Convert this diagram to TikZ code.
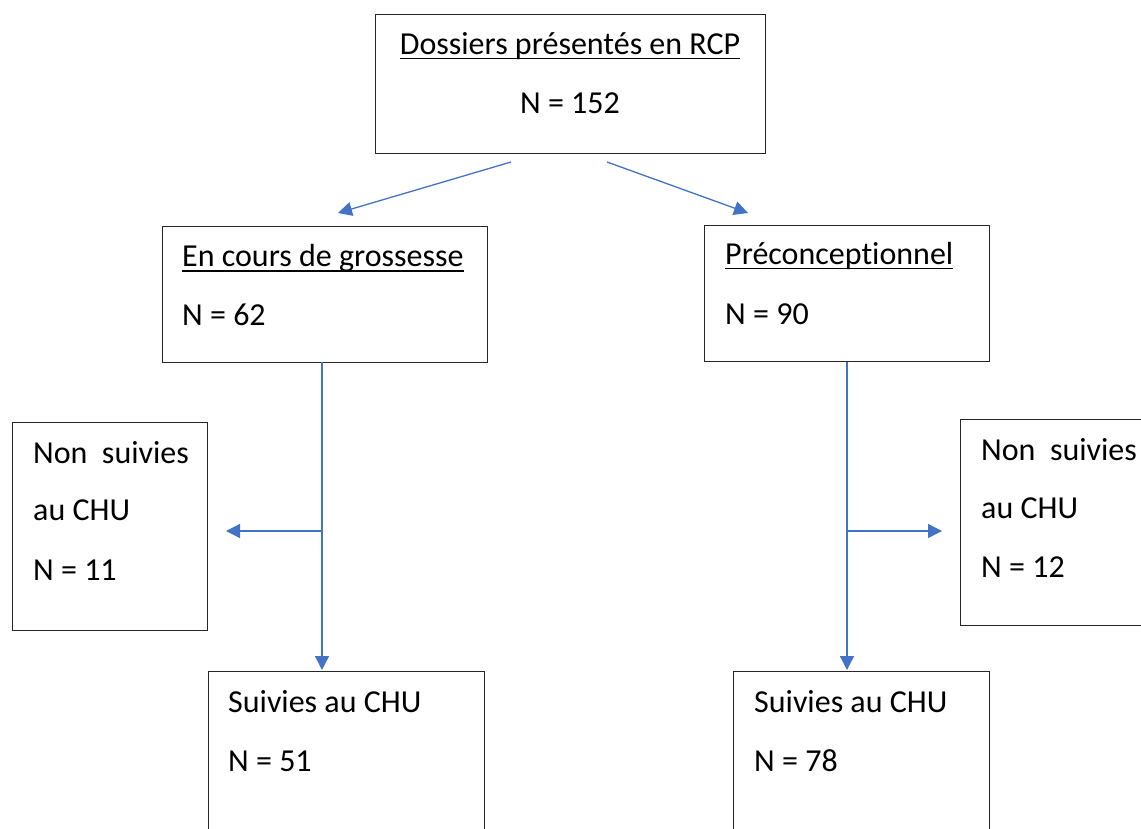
\documentclass[tikz,border=0pt]{standalone}
\usepackage{fontspec}
\setmainfont{Carlito}[Ligatures={NoCommon,NoContextual}]
\usetikzlibrary{arrows.meta}
\definecolor{arrowblue}{HTML}{4472C4}
\newcommand{\ulx}[1]{\setbox0\hbox{#1}\rlap{\rule[-4.5pt]{\wd0}{1.8pt}}\box0}
\tikzset{
  box/.style={draw=black!85, line width=1.3pt, rectangle, inner sep=0pt, anchor=north west},
  txt/.style={inner sep=0pt, anchor=base west, font=\fontsize{32}{38}\selectfont},
  flow/.style={draw=arrowblue, line width=1.3pt, -{Triangle[length=14pt,width=14pt]}}
}
\begin{document}
\begin{tikzpicture}[x=1pt,y=-1pt]
\clip (0,0) rectangle (1141,829);
\fill[white] (0,0) rectangle (1141,829);
% boxes
\node[box, minimum width=390pt, minimum height=139pt] (top) at (375,14) {};
\node[box, minimum width=325pt, minimum height=136pt] (midL) at (162,226) {};
\node[box, minimum width=285pt, minimum height=136pt] (midR) at (704,225) {};
\node[box, minimum width=195pt, minimum height=208pt] (sideL) at (12,422) {};
\node[box, minimum width=220pt, minimum height=206pt] (sideR) at (960,419) {};
\node[box, minimum width=276pt, minimum height=200pt] (botL) at (208,671) {};
\node[box, minimum width=256pt, minimum height=200pt] (botR) at (733,671) {};
% texts
\node[txt, anchor=base] (t1) at (570,55) {\ulx{Dossiers présentés en RCP}};
\node[txt, anchor=base] (t2) at (570,114) {N = 152};
\node[txt] (t3) at (182,267) {\ulx{En cours de grossesse}};
\node[txt] (t4) at (182,325) {N = 62};
\node[txt] (t5) at (725,265) {\ulx{Préconcept\kern0pt ionnel}};
\node[txt] (t6) at (725,324) {N = 90};
\node[txt] (t7) at (33,463) {Non\ \ suivies};
\node[txt] (t8) at (33,520) {au CHU};
\node[txt] (t9) at (33,580) {N = 11};
\node[txt] (t10) at (981,460) {Non\ \ suivies};
\node[txt] (t11) at (981,518) {au CHU};
\node[txt] (t12) at (981,577) {N = 12};
\node[txt] (t13) at (228,712) {Suivies au CHU};
\node[txt] (t14) at (228,771) {N = 51};
\node[txt] (t15) at (754,712) {Suivies au CHU};
\node[txt] (t16) at (754,771) {N = 78};
% connector coordinates
\coordinate (aL0) at (511,162);
\coordinate (aL1) at (338,213);
\coordinate (aR0) at (607,162);
\coordinate (aR1) at (748,213);
\coordinate (vL0) at (322,362);
\coordinate (vL1) at (322,670);
\coordinate (hL0) at (322,531);
\coordinate (hL1) at (226,531);
\coordinate (vR0) at (847,362);
\coordinate (vR1) at (847,670);
\coordinate (hR0) at (847,531);
\coordinate (hR1) at (942,531);
% connectors
\draw[flow] (aL0) -- (aL1);
\draw[flow] (aR0) -- (aR1);
\draw[flow] (vL0) -- (vL1);
\draw[flow] (hL0) -- (hL1);
\draw[flow] (vR0) -- (vR1);
\draw[flow] (hR0) -- (hR1);
\end{tikzpicture}
\end{document}
